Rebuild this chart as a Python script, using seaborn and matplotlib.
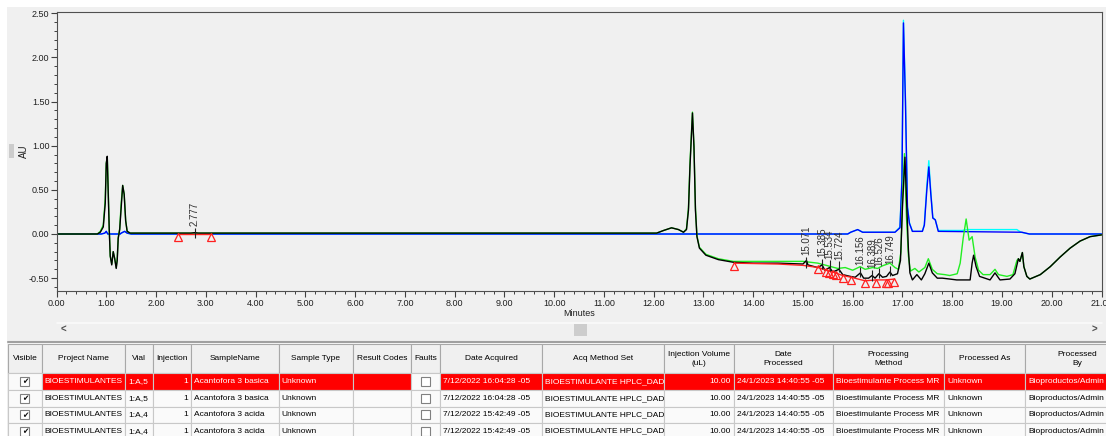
import matplotlib
matplotlib.use("Agg")
import matplotlib.pyplot as plt
import seaborn as sns
import pandas as pd
from matplotlib.patches import Rectangle
from matplotlib.ticker import MultipleLocator, FormatStrFormatter

# ---------------- chromatogram data (minutes, AU) ----------------
black_t = [0.00, 0.82, 0.88, 0.94, 0.98, 1.00, 1.02, 1.04, 1.06, 1.08, 1.11, 1.14, 1.17, 1.20, 1.22,
           1.24, 1.27, 1.30, 1.33, 1.36, 1.39, 1.42, 1.48, 2.70, 2.777, 2.85, 11.90, 12.06, 12.20,
           12.36, 12.50, 12.60, 12.66, 12.70, 12.73, 12.78, 12.81, 12.84, 12.87, 12.92, 13.05, 13.30,
           13.60, 14.00, 14.50, 15.00, 15.071, 15.10, 15.30, 15.385, 15.44, 15.534, 15.60, 15.724,
           15.80, 15.95, 16.05, 16.156, 16.22, 16.32, 16.389, 16.45, 16.526, 16.60, 16.68, 16.749,
           16.80, 16.90, 16.96, 17.00, 17.05, 17.09, 17.12, 17.15, 17.20, 17.29, 17.38, 17.45, 17.53,
           17.60, 17.70, 17.80, 17.95, 18.09, 18.36, 18.40, 18.43, 18.48, 18.55, 18.76, 18.86, 18.96,
           19.16, 19.26, 19.33, 19.36, 19.41, 19.44, 19.50, 19.56, 19.77, 19.97, 20.17, 20.37, 20.57,
           20.77, 21.00]
black_y = [0.00, 0.00, 0.02, 0.08, 0.35, 0.80, 0.88, 0.45, 0.05, -0.25, -0.35, -0.20, -0.28, -0.39, -0.30,
           -0.05, 0.05, 0.30, 0.55, 0.45, 0.15, 0.03, 0.01, 0.01, 0.015, 0.01, 0.01, 0.01, 0.04,
           0.07, 0.05, 0.02, 0.05, 0.27, 0.76, 1.37, 0.99, 0.27, -0.03, -0.16, -0.24, -0.29,
           -0.32, -0.33, -0.33, -0.34, -0.30, -0.35, -0.38, -0.35, -0.41, -0.38, -0.43, -0.40,
           -0.46, -0.48, -0.49, -0.44, -0.50, -0.50, -0.47, -0.50, -0.45, -0.49, -0.48, -0.43,
           -0.47, -0.45, -0.30, 0.30, 0.87, 0.27, -0.18, -0.44, -0.52, -0.46, -0.52, -0.45, -0.33,
           -0.44, -0.50, -0.50, -0.51, -0.52, -0.52, -0.33, -0.24, -0.37, -0.48, -0.52, -0.44, -0.52,
           -0.51, -0.45, -0.28, -0.31, -0.21, -0.37, -0.48, -0.51, -0.46, -0.37, -0.26, -0.16, -0.08,
           -0.03, -0.01]

green_t = [0.00, 0.82, 0.88, 0.94, 0.98, 1.00, 1.02, 1.04, 1.06, 1.08, 1.11, 1.14, 1.17, 1.20, 1.22,
           1.24, 1.27, 1.30, 1.33, 1.36, 1.39, 1.42, 1.48, 11.90, 12.06, 12.20, 12.36, 12.50, 12.60,
           12.66, 12.70, 12.73, 12.78, 12.81, 12.84, 12.87, 12.92, 13.05, 13.30, 13.60, 14.00, 14.50,
           15.00, 15.30, 15.50, 15.70, 15.85, 16.00, 16.15, 16.25, 16.40, 16.50, 16.60, 16.75, 16.85,
           16.92, 16.97, 17.00, 17.04, 17.08, 17.12, 17.16, 17.25, 17.33, 17.45, 17.52, 17.60, 17.70,
           17.85, 17.95, 18.10, 18.16, 18.22, 18.28, 18.34, 18.40, 18.46, 18.53, 18.62, 18.76, 18.86,
           18.93, 19.10, 19.22, 19.30, 19.33, 19.36, 19.41, 19.44, 19.50, 19.56, 19.77, 19.97, 20.17,
           20.37, 20.57, 20.77, 21.00]
green_y = [0.00, 0.00, 0.03, 0.10, 0.40, 0.80, 0.87, 0.50, 0.05, -0.25, -0.34, -0.20, -0.28, -0.38, -0.28,
           -0.04, 0.06, 0.35, 0.55, 0.45, 0.15, 0.03, 0.01, 0.01, 0.01, 0.04, 0.07, 0.05, 0.02,
           0.06, 0.30, 0.80, 1.38, 1.00, 0.30, -0.02, -0.15, -0.23, -0.28, -0.31, -0.31, -0.31,
           -0.31, -0.33, -0.36, -0.39, -0.38, -0.41, -0.37, -0.40, -0.38, -0.39, -0.36, -0.33, -0.38,
           -0.40, -0.20, 0.40, 0.91, 0.20, -0.25, -0.42, -0.39, -0.43, -0.38, -0.28, -0.40, -0.45,
           -0.46, -0.47, -0.45, -0.33, -0.05, 0.17, -0.07, -0.03, -0.26, -0.41, -0.46, -0.46, -0.40,
           -0.46, -0.48, -0.46, -0.30, -0.28, -0.31, -0.21, -0.37, -0.48, -0.51, -0.46, -0.37, -0.26,
           -0.16, -0.08, -0.03, -0.01]

blue_t = [0.00, 0.90, 0.97, 1.00, 1.03, 1.28, 1.30, 1.37, 1.42, 1.50, 15.90, 15.96, 16.10, 16.20, 16.50,
          16.85, 16.95, 16.99, 17.02, 17.06, 17.10, 17.14, 17.20, 17.40, 17.44, 17.49, 17.53, 17.57,
          17.61, 17.66, 17.72, 19.40, 19.55, 21.00]
blue_y = [0.00, 0.00, 0.01, 0.03, 0.00, 0.00, 0.01, 0.03, 0.01, 0.00, 0.00, 0.02, 0.05, 0.02, 0.02,
          0.02, 0.07, 0.60, 2.39, 1.50, 0.30, 0.12, 0.03, 0.03, 0.10, 0.50, 0.76, 0.45,
          0.18, 0.16, 0.03, 0.02, 0.00, 0.00]

cyan_t = [0.00, 0.90, 0.97, 1.00, 1.03, 1.28, 1.30, 1.37, 1.42, 1.50, 15.90, 15.96, 16.10, 16.20, 16.50,
          16.85, 16.95, 16.99, 17.02, 17.06, 17.10, 17.14, 17.20, 17.40, 17.44, 17.49, 17.53, 17.57,
          17.61, 17.66, 17.72, 18.20, 18.30, 19.30, 19.38, 19.55, 21.00]
cyan_y = [0.00, 0.00, 0.01, 0.03, 0.00, 0.00, 0.01, 0.03, 0.01, 0.00, 0.00, 0.02, 0.05, 0.02, 0.02,
          0.02, 0.08, 0.65, 2.42, 1.55, 0.32, 0.13, 0.03, 0.03, 0.11, 0.55, 0.83, 0.48,
          0.19, 0.16, 0.04, 0.04, 0.05, 0.05, 0.02, 0.00, 0.00]

# integration baselines (red) and peak start/end markers
base1_t = [2.45, 3.10]
base1_y = [0.00, 0.00]
base2_t = [13.62, 14.50, 15.00, 15.31, 15.46, 15.60, 15.80, 15.97, 16.25, 16.47, 16.66, 16.84]
base2_y = [-0.33, -0.34, -0.355, -0.38, -0.41, -0.43, -0.47, -0.49, -0.53, -0.52, -0.52, -0.51]
mark_t = [2.45, 3.10, 13.62, 15.31, 15.46, 15.52, 15.60, 15.66, 15.80, 15.97, 16.25, 16.47, 16.66, 16.71, 16.84]
mark_y = [-0.035, -0.035, -0.36, -0.40, -0.43, -0.44, -0.45, -0.46, -0.50, -0.52, -0.56, -0.55, -0.55, -0.55, -0.54]

# peak labels
peak_t = [2.777, 15.071, 15.385, 15.534, 15.724, 16.156, 16.389, 16.526, 16.749]
peak_h = [0.00, -0.33, -0.35, -0.37, -0.38, -0.44, -0.48, -0.45, -0.43]
peak_lbl = ["2.777", "15.071", "15.385", "15.534", "15.724", "16.156", "16.389", "16.526", "16.749"]

# ---------------- table data ----------------
headers = ["Visible", "Project Name", "Vial", "Injection", "SampleName", "Sample Type", "Result Codes",
           "Faults", "Date Acquired", "Acq Method Set", "Injection Volume\n(uL)", "Date\nProcessed",
           "Processing\nMethod", "Processed As", "Processed\nBy"]
visible = [True, True, True, True]
project = ["BIOESTIMULANTES"] * 4
vial = ["1:A,5", "1:A,5", "1:A,4", "1:A,4"]
injection = ["1", "1", "1", "1"]
sample_name = ["Acantofora 3 basica", "Acantofora 3 basica", "Acantofora 3 acida", "Acantofora 3 acida"]
sample_type = ["Unknown"] * 4
result_codes = [""] * 4
faults = [False] * 4
date_acq = ["7/12/2022 16:04:28 -05", "7/12/2022 16:04:28 -05", "7/12/2022 15:42:49 -05", "7/12/2022 15:42:49 -05"]
acq_method = ["BIOESTIMULANTE HPLC_DAD"] * 4
inj_volume = ["10.00"] * 4
date_proc = ["24/1/2023 14:40:55 -05"] * 4
proc_method = ["Bioestimulante Process MR"] * 4
proc_as = ["Unknown"] * 4
proc_by = ["Bioproductos/Admin"] * 4

# ---------------- figure ----------------
sns.set_theme(style="ticks")
plt.rcParams['font.family'] = ['Liberation Sans', 'DejaVu Sans']
plt.rcParams['axes.unicode_minus'] = False

W, H = 1106, 436
fig = plt.figure(figsize=(W / 100, H / 100), dpi=100, facecolor='#F0F0F0')

deco = fig.add_axes([0, 0, 1, 1], zorder=0)
deco.set_xlim(0, W)
deco.set_ylim(H, 0)
deco.axis('off')

ax = fig.add_axes([56.5 / W, 1 - 290.7 / H, 1045 / W, 279 / H], zorder=1)
ax.set_facecolor('#F0F0F0')

traces = [(cyan_t, cyan_y, '#00FFFF'), (blue_t, blue_y, '#0000FF'),
          (green_t, green_y, '#22EE22'), (black_t, black_y, '#000000')]
for t, y, c in traces:
    df = pd.DataFrame({'Minutes': t, 'AU': y})
    sns.lineplot(data=df, x='Minutes', y='AU', ax=ax, color=c, lw=1.0, sort=False, estimator=None)

df_b1 = pd.DataFrame({'t': base1_t, 'y': base1_y})
df_b2 = pd.DataFrame({'t': base2_t, 'y': base2_y})
sns.lineplot(data=df_b1, x='t', y='y', ax=ax, color='#FF2020', lw=1.0, sort=False, estimator=None)
sns.lineplot(data=df_b2, x='t', y='y', ax=ax, color='#FF2020', lw=1.0, sort=False, estimator=None)
ax.plot(mark_t, mark_y, ls='none', marker='^', mfc='none', mec='#FF2020', ms=6, mew=0.9)

for t, h, s in zip(peak_t, peak_h, peak_lbl):
    ax.vlines(t, h - 0.05, h + 0.07, color='#202020', lw=0.8)
    ax.text(t, h + 0.09, s, rotation=90, ha='center', va='bottom', fontsize=7, color='#303030')

ax.set_xlim(0, 21)
ax.set_ylim(-0.642, 2.517)
ax.xaxis.set_major_locator(MultipleLocator(1))
ax.xaxis.set_minor_locator(MultipleLocator(0.2))
ax.yaxis.set_major_locator(MultipleLocator(0.5))
ax.yaxis.set_minor_locator(MultipleLocator(0.1))
ax.xaxis.set_major_formatter(FormatStrFormatter('%.2f'))
ax.yaxis.set_major_formatter(FormatStrFormatter('%.2f'))
ax.tick_params(axis='both', which='major', length=4, width=0.8, color='#404040',
               labelsize=6.5, labelcolor='#202020', direction='out')
ax.tick_params(axis='both', which='minor', length=2.5, width=0.7, color='#404040', direction='out')
ax.tick_params(axis='y', which='major', pad=1)
ax.tick_params(axis='x', which='major', pad=2)
for sp in ax.spines.values():
    sp.set_color('#505050')
    sp.set_linewidth(0.8)
ax.set_xlabel('Minutes', fontsize=6.5, color='#202020', labelpad=1)
ax.set_ylabel('AU', fontsize=7, color='#202020', labelpad=0)

# ---------------- window frame / scroll bar ----------------
deco.add_patch(Rectangle((0, 0), W, 7, facecolor='#FFFFFF', edgecolor='none'))
deco.add_patch(Rectangle((0, 0), 7, H, facecolor='#FFFFFF', edgecolor='none'))
deco.plot([57, 1102], [323, 323], color='#FAFAFA', lw=1.2)
deco.add_patch(Rectangle((573.5, 323.5), 13.5, 12.3, facecolor='#CDCDCD', edgecolor='none'))
deco.text(63.5, 329.5, '<', ha='center', va='center', fontsize=7, color='#505050', fontweight='bold')
deco.text(1094, 329.5, '>', ha='center', va='center', fontsize=7, color='#505050', fontweight='bold')
deco.add_patch(Rectangle((8.5, 144), 5, 14, facecolor='#CCCCCC', edgecolor='none'))

# ---------------- table ----------------
col_edges = [8, 41.8, 125, 152.5, 191, 278.6, 352.9, 411.4, 440.4, 541.8, 664.2, 733.7, 832.6, 944.3,
             1025.2, 1130]
align = ['c', 'l', 'l', 'r', 'l', 'l', 'l', 'c', 'l', 'l', 'r', 'l', 'l', 'l', 'l']
head_top, head_bot = 344.3, 373.3
row_edges = [373.3, 390.0, 406.7, 422.7, 439.4]

deco.plot([8, W], [342, 342], color='#A0A0A0', lw=1.5)
deco.add_patch(Rectangle((8, 343), W - 8, H - 343, facecolor='#FAFAFA', edgecolor='none'))

for i, hd in enumerate(headers):
    x0, x1 = col_edges[i], col_edges[i + 1]
    deco.add_patch(Rectangle((x0, head_top), x1 - x0, head_bot - head_top,
                             facecolor='#F0F0F0', edgecolor='#A8A8A8', lw=0.8))
    deco.text((x0 + x1) / 2, (head_top + head_bot) / 2, hd, ha='center', va='center',
              fontsize=6, color='#000000', linespacing=1.45)

columns = [visible, project, vial, injection, sample_name, sample_type, result_codes, faults,
           date_acq, acq_method, inj_volume, date_proc, proc_method, proc_as, proc_by]
for r in range(4):
    y0, y1 = row_edges[r], row_edges[r + 1]
    yc = (y0 + y1) / 2
    for c, col in enumerate(columns):
        x0, x1 = col_edges[c], col_edges[c + 1]
        selected = (r == 0 and c not in (0, 7))
        fc = '#FF0000' if selected else '#FAFAFA'
        deco.add_patch(Rectangle((x0, y0), x1 - x0, y1 - y0, facecolor=fc, edgecolor='#C8C8C8', lw=0.8))
        val = col[r]
        if isinstance(val, bool):
            xc = (x0 + x1) / 2
            deco.add_patch(Rectangle((xc - 4.5, yc - 4.5), 9, 9, facecolor='#FFFFFF',
                                     edgecolor='#808080', lw=0.8))
            if val:
                deco.text(xc, yc + 0.3, '\u2714', ha='center', va='center', fontsize=5.5,
                          color='#101010', family=['DejaVu Sans'])
            continue
        tc = '#FFFFFF' if selected else '#000000'
        if align[c] == 'r':
            deco.text(x1 - 3, yc, val, ha='right', va='center', fontsize=6, color=tc)
        else:
            deco.text(x0 + 3, yc, val, ha='left', va='center', fontsize=6, color=tc)

fig.savefig('out.png', dpi=100, facecolor=fig.get_facecolor())
